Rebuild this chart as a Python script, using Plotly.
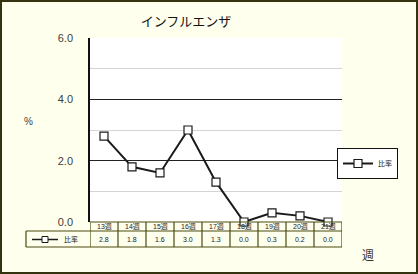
import plotly.graph_objects as go

weeks = ["13週", "14週", "15週", "16週", "17週", "18週", "19週", "20週", "21週"]
ratio = [2.8, 1.8, 1.6, 3.0, 1.3, 0.0, 0.3, 0.2, 0.0]
value_labels = ["2.8", "1.8", "1.6", "3.0", "1.3", "0.0", "0.3", "0.2", "0.0"]
series_name = "比率"
title_text = "インフルエンザ"

BG = "#FFFFEE"
OLIVE = "#4A4A10"
FONT = "Liberation Sans, Noto Sans CJK JP, sans-serif"

fig = go.Figure()
fig.add_trace(go.Scatter(
    x=weeks, y=ratio, name=series_name, mode="lines+markers",
    line=dict(color="#1a1a1a", width=2),
    marker=dict(symbol="square", size=8, color="white",
                line=dict(color="#1a1a1a", width=1.2)),
    cliponaxis=False,
))

L, R, T, B = 90, 76, 38, 52
W, H = 418, 274
pw, ph = W - L - R, H - T - B

def py(pix):  # pixel y -> paper y
    return (H - B - pix) / ph

def px(pix):
    return (pix - L) / pw

shapes = []
shapes.append(dict(type="rect", xref="paper", yref="paper",
                   x0=px(1), x1=px(W - 1), y0=py(H - 1), y1=py(1),
                   line=dict(color="#333310", width=2), layer="below"))
y_top, y_mid, y_bot = py(222), py(231), py(247)
shapes.append(dict(type="line", xref="paper", yref="paper", x0=0, x1=1, y0=y_top, y1=y_top,
                   line=dict(color=OLIVE, width=1.2)))
shapes.append(dict(type="line", xref="paper", yref="paper", x0=px(26), x1=1, y0=y_mid, y1=y_mid,
                   line=dict(color=OLIVE, width=1.2)))
shapes.append(dict(type="line", xref="paper", yref="paper", x0=px(26), x1=1, y0=y_bot, y1=y_bot,
                   line=dict(color=OLIVE, width=1.2)))
shapes.append(dict(type="line", xref="paper", yref="paper", x0=px(26), x1=px(26), y0=y_mid, y1=y_bot,
                   line=dict(color=OLIVE, width=1.2)))
for i in range(len(weeks) + 1):
    shapes.append(dict(type="line", xref="x", yref="paper", x0=i - 0.5, x1=i - 0.5,
                       y0=y_top, y1=y_bot, line=dict(color=OLIVE, width=1.2)))
shapes.append(dict(type="line", xref="paper", yref="paper", x0=px(32), x1=px(58),
                   y0=py(239.5), y1=py(239.5), line=dict(color="#1a1a1a", width=1.5)))
shapes.append(dict(type="rect", xref="paper", yref="paper", x0=px(42), x1=px(48),
                   y0=py(242.5), y1=py(236.5), fillcolor="white",
                   line=dict(color="#1a1a1a", width=1)))

def ann(x, y, text, size, color="#222222", xref="paper", xanchor="center", family=FONT):
    return dict(x=x, y=y, xref=xref, yref="paper", text=text, showarrow=False,
                xanchor=xanchor, yanchor="middle",
                font=dict(size=size, color=color, family=family))

annotations = []
for w, v in zip(weeks, value_labels):
    annotations.append(ann(w, (y_top + y_mid) / 2, w, 7, xref="x"))
    annotations.append(ann(w, (y_mid + y_bot) / 2, v, 7, xref="x"))
annotations.append(ann(px(62), (y_mid + y_bot) / 2, series_name, 7, xanchor="left"))
annotations.append(ann(px(28), py(121), "%", 10, color="#404040"))
annotations.append(ann(px(368), py(256), "週", 12, color="#333333"))

fig.update_layout(
    width=W, height=H,
    margin=dict(l=L, r=R, t=T, b=B, pad=0),
    paper_bgcolor=BG, plot_bgcolor="white",
    font=dict(family=FONT),
    title=dict(text=title_text, x=186 / W, xanchor="center", y=1 - 21 / H, yanchor="middle",
               font=dict(size=13, color="#111111", family="Noto Sans CJK JP")),
    xaxis=dict(type="category", categoryarray=weeks, range=[-0.5, len(weeks) - 0.5],
               showticklabels=False, showgrid=False, zeroline=False, showline=False, ticks=""),
    yaxis=dict(range=[0, 6], dtick=2, tickformat=".1f", showgrid=True, gridcolor="#222222",
               gridwidth=1, zeroline=False, showline=True, linecolor="#111111", linewidth=1.5,
               ticks="", ticklabelstandoff=13,
               tickfont=dict(size=11, color="#404040", family=FONT),
               minor=dict(dtick=1, showgrid=True, gridcolor="#d4d4d4", gridwidth=1)),
    legend=dict(x=px(337), y=py(148), xanchor="left", yanchor="top",
                bgcolor="white", bordercolor="#111111", borderwidth=1,
                font=dict(size=7, color="#222222", family=FONT), itemwidth=30,
                tracegroupgap=0),
    showlegend=True,
    shapes=shapes, annotations=annotations,
)

fig.write_html("out.html")
